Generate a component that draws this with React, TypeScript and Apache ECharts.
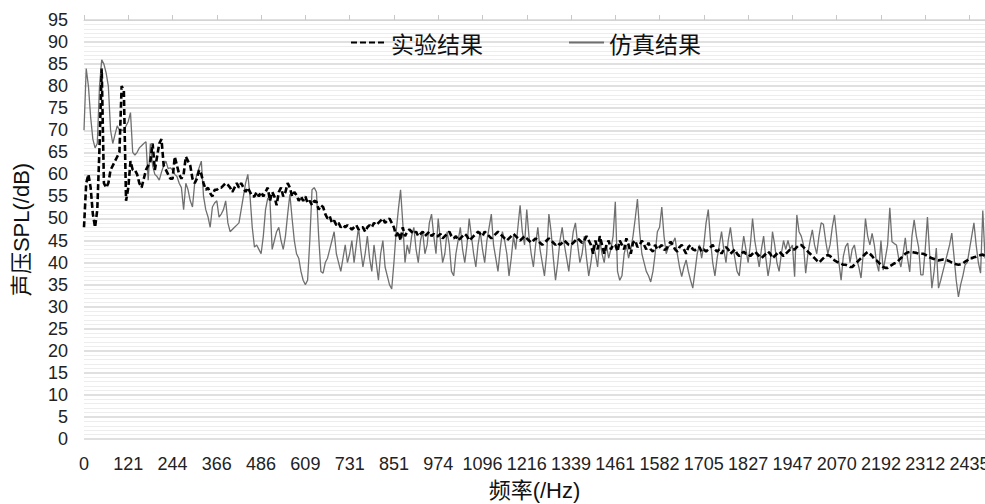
import React, { useEffect, useRef } from 'react';
import * as echarts from 'echarts';

const tickLabels = ['0', '121', '244', '366', '486', '609', '731', '851', '974', '1096', '1216', '1339', '1461', '1582', '1705', '1827', '1947', '2070', '2192', '2312', '2435'];

const seriesNames = ['实验结果', '仿真结果'];

// 实验结果 (dashed), one row per x-label interval
const experiment = [
  48, 58, 60, 57, 51, 48, 52, 66, 84, 58, 57, 58, 61, 62, 63, 64, 65, 80, 79, 54,
  57, 63, 61, 61, 60, 58, 57, 59, 61, 62, 63, 67, 61, 64, 67, 68, 62, 61, 60, 59,
  59, 64, 62, 60, 59, 60, 64, 63, 62, 59, 58, 59, 61, 60, 58, 56.5, 57, 55.7, 55, 56.5,
  56.5, 57, 57, 57.5, 58, 57.6, 57, 56, 57, 58, 57, 58, 57, 56, 57, 56, 55, 55, 56, 55,
  56, 55, 56, 57, 54, 56, 55, 53, 56, 57, 55, 56, 58, 57, 55, 56, 55.3, 54, 55, 54,
  55, 53.5, 54, 53, 54, 53.8, 52, 53, 52.6, 51, 50, 50.5, 49, 49.5, 48.5, 49, 48, 48.5, 48, 48.5,
  48, 47.5, 48, 48.5, 47.5, 48, 48, 47, 48, 48.5, 48, 49, 48.5, 49, 49.5, 50, 49, 49.5, 50, 49,
  48, 46, 47, 45, 48, 46, 47, 47.5, 47, 46.5, 47, 46, 46.5, 47, 46, 46.5, 47, 46, 46.5, 46,
  46, 46.5, 45.5, 46, 46.5, 47, 46, 45.5, 46, 45, 45.5, 46, 46.5, 46, 45, 45.5, 46, 46.5, 47, 46.5,
  46, 47, 46.5, 46, 45.5, 46, 46.5, 47, 46.5, 46, 45.5, 45, 45.5, 46, 46.5, 46, 45.5, 45, 45.5, 46,
  45.5, 45, 44.5, 45, 45.5, 45, 44.5, 44, 44.5, 45, 45.5, 45, 44.5, 44, 44.5, 44, 44.5, 45, 44.5, 44,
  44, 44.5, 45, 45.5, 45, 44.5, 45, 46, 45, 44, 42, 45, 43, 46, 44, 42, 44, 45, 43, 44,
  44, 42.5, 45, 44, 43, 45.5, 44, 42, 44.5, 45, 43.5, 44, 45, 44, 43, 44.5, 43, 42.5, 44, 43,
  43.5, 44, 42.9, 43, 44, 44.7, 44, 43, 42.5, 43.5, 44, 43, 42, 43.5, 44, 43, 42.8, 43, 43.5, 42.5,
  43, 42.5, 43, 43.5, 44, 43, 42.5, 43, 42, 43, 43.5, 43, 42, 42.5, 43, 42, 41.5, 42, 42.5, 42,
  42, 41.5, 42, 42.5, 42, 41.5, 41, 41.5, 42, 42.5, 42, 41, 41.5, 42, 42.5, 42, 41.5, 42, 42.5, 43,
  43, 43, 43.5, 44, 44, 43.5, 43, 42.5, 42, 41.5, 41, 40.5, 40, 40.5, 41, 41.5, 41.7, 41.5, 41, 40.5,
  40.2, 40, 39.8, 39.5, 39.5, 39.3, 39, 39, 39.5, 40, 40.5, 41, 41.5, 42, 42.4, 42, 41.5, 40.8, 40.5, 40,
  39.5, 39, 38.8, 38.8, 39.2, 39.5, 39.8, 40, 40.5, 41, 41.5, 42, 42.3, 42.4, 42.4, 42.3, 42.2, 42, 42, 42,
  41.8, 41.5, 41.2, 41, 40.8, 40.6, 40.5, 40.6, 40.7, 40.6, 40.5, 40.3, 40, 39.8, 39.6, 39.5, 39.6, 39.8, 40.2, 40.5,
  41, 41, 41.2, 41.3, 41.5, 41.7, 41.8, 41.5,
];

// 仿真结果 (solid grey)
const simulation = [
  70, 84, 80, 73, 68, 66, 67, 80, 86, 85, 83, 80, 70, 67, 69, 71, 70, 70, 70, 71,
  72, 74, 65, 64.4, 65, 66, 66.5, 67, 67.4, 58.7, 67, 62, 60, 59.5, 58.7, 60.5, 62, 63, 61.3, 61.5,
  61, 60, 59.5, 58, 57, 52, 58, 56.5, 54, 52.6, 58, 60, 61.5, 63, 55, 52, 50.4, 48, 52.6, 53.5,
  54, 50.3, 51, 52, 54, 49, 47, 47.5, 48, 48.5, 49, 52, 55, 58, 60, 55, 48, 43.5, 44, 43,
  42, 46, 52, 54.6, 54, 43, 45, 47, 48, 45, 43, 46, 51, 55.5, 50, 45, 42, 41, 38, 36,
  35, 36, 45, 56.5, 57, 56, 46, 38, 37.6, 40, 41, 43, 45, 47, 42, 40, 38, 41, 44, 40,
  42, 45, 40, 44, 48, 43, 39, 42, 46, 41, 38, 44, 40, 36, 42, 45, 39, 37, 35, 34,
  40, 47, 52, 56.5, 49, 40, 44, 42, 46, 48, 43, 40, 45, 47, 42, 44, 49, 51, 46, 42,
  50, 45, 40, 42, 47, 44, 38, 37, 42, 45, 48, 43, 40, 44, 50, 46, 42, 39, 44, 47,
  43, 40, 45, 48, 51, 44, 41, 38, 43, 47, 45, 42, 37, 41, 46, 43, 48, 53, 47, 44,
  52, 46, 42, 39, 44, 48, 43, 40, 37, 42, 51, 47, 41, 36, 40, 45, 48, 44, 41, 38,
  43, 47, 49, 44, 40, 42, 46, 41, 37, 40, 44, 42, 39, 45, 42, 40, 44, 41, 43, 46,
  53.8, 38, 36, 37, 42, 44, 41, 43, 46, 50, 54.4, 47, 42, 40, 38, 37, 35.6, 38, 42, 47,
  48, 52.6, 46, 42, 43.6, 44, 44.5, 45.6, 42, 39, 36.8, 39, 40.6, 38, 36, 34.2, 38, 42, 44, 41,
  44, 49, 52, 45, 40, 37, 41, 44, 47, 43, 40, 45, 48, 44, 41, 38, 37, 42, 46, 43,
  40, 44, 50, 45, 42, 39, 43, 46, 41, 37, 40, 47, 44, 40, 38, 42, 45, 43, 45, 43,
  44, 36.8, 50.8, 47, 46, 44, 37.6, 42, 45, 47.4, 44, 42, 46, 49, 48.7, 45, 42, 44, 48, 50.8,
  46, 40, 36, 41.4, 43.6, 44.4, 40, 43, 44, 41, 39, 36.5, 42, 50, 46, 44, 46.6, 44, 40, 38,
  45, 38.3, 41, 44, 52.4, 44.7, 44.3, 44, 41, 39, 42, 45.6, 41, 37.9, 46, 49.7, 46, 43.5, 37.2, 37.2,
  43, 50.3, 42, 34.2, 38, 43.3, 34.2, 36, 38, 40, 42, 44, 46.7, 41.4, 36, 32.2, 35, 37, 39.5, 40,
  43, 46, 49, 44, 40, 37.6, 51.8, 41,
];

const PER_TICK = 20;
const categories = simulation.map((_, i) =>
  i % PER_TICK === 0 && i / PER_TICK < tickLabels.length
    ? tickLabels[i / PER_TICK]
    : String(Math.round((i * Number(tickLabels[tickLabels.length - 1])) / ((tickLabels.length - 1) * PER_TICK) * 10) / 10)
);

const latin = '"Liberation Sans", Arial, "Noto Sans CJK SC", sans-serif';
const cjk = '"Noto Sans CJK SC", "Liberation Sans", sans-serif';

export default function App() {
  const ref = useRef<HTMLDivElement>(null);
  useEffect(() => {
    if (!ref.current) return;
    const chart = echarts.init(ref.current, undefined, { renderer: 'svg' });
    chart.setOption({
      animation: false,
      backgroundColor: '#ffffff',
      grid: { left: 84, right: 0, top: 20, bottom: 65, containLabel: false, outerBoundsMode: 'none' },
      legend: {
        data: seriesNames,
        left: 345,
        top: 26,
        itemWidth: 35,
        itemHeight: 12,
        itemGap: 85,
        itemStyle: { opacity: 0 },
        textStyle: { fontSize: 23, fontFamily: cjk, color: '#111' },
      },
      xAxis: [
        {
          type: 'category',
          data: categories,
          boundaryGap: false,
          position: 'bottom',
          axisLine: { show: false },
          axisTick: { show: false },
          splitLine: { show: false },
          axisLabel: { interval: PER_TICK - 1, fontSize: 18, fontFamily: latin, color: '#222', margin: 16 },
          name: '频率(/Hz)',
          nameLocation: 'middle',
          nameGap: 40,
          nameTextStyle: { fontSize: 22, fontFamily: latin, color: '#111' },
        },
        {
          type: 'category',
          data: categories,
          boundaryGap: false,
          position: 'top',
          axisLine: { show: true, lineStyle: { color: '#d4d4d4', width: 1 } },
          axisTick: { show: true, interval: PER_TICK - 1, length: 5, lineStyle: { color: '#c8c8c8' } },
          axisLabel: { show: false },
          splitLine: { show: false },
        },
      ],
      yAxis: {
        type: 'value',
        min: 0,
        max: 95,
        interval: 5,
        axisLine: { show: false },
        axisTick: { show: false },
        axisLabel: { fontSize: 18, fontFamily: latin, color: '#222', margin: 16 },
        splitLine: { show: true, lineStyle: { color: '#d6d6d6', width: 1.5 } },
        minorTick: { show: false, splitNumber: 5 },
        minorSplitLine: { show: true, lineStyle: { color: '#ededed', width: 1 } },
        name: '声压SPL(/dB)',
        nameLocation: 'middle',
        nameRotate: 90,
        nameGap: 52,
        nameTextStyle: { fontSize: 22, fontFamily: latin, color: '#111' },
      },
      series: [
        {
          name: seriesNames[1],
          type: 'line',
          data: simulation,
          symbol: 'none',
          lineStyle: { color: '#6f6f6f', width: 1.3, type: 'solid' },
          itemStyle: { color: '#6f6f6f' },
          z: 2,
        },
        {
          name: seriesNames[0],
          type: 'line',
          data: experiment,
          symbol: 'none',
          lineStyle: { color: '#000000', width: 2.6, type: [6, 3] },
          itemStyle: { color: '#000000' },
          z: 3,
        },
      ],
    });
    return () => chart.dispose();
  }, []);
  return (
    <div
      ref={ref}
      style={{ position: 'fixed', left: 0, top: 0, width: 985, height: 504, background: '#fff' }}
    />
  );
}
